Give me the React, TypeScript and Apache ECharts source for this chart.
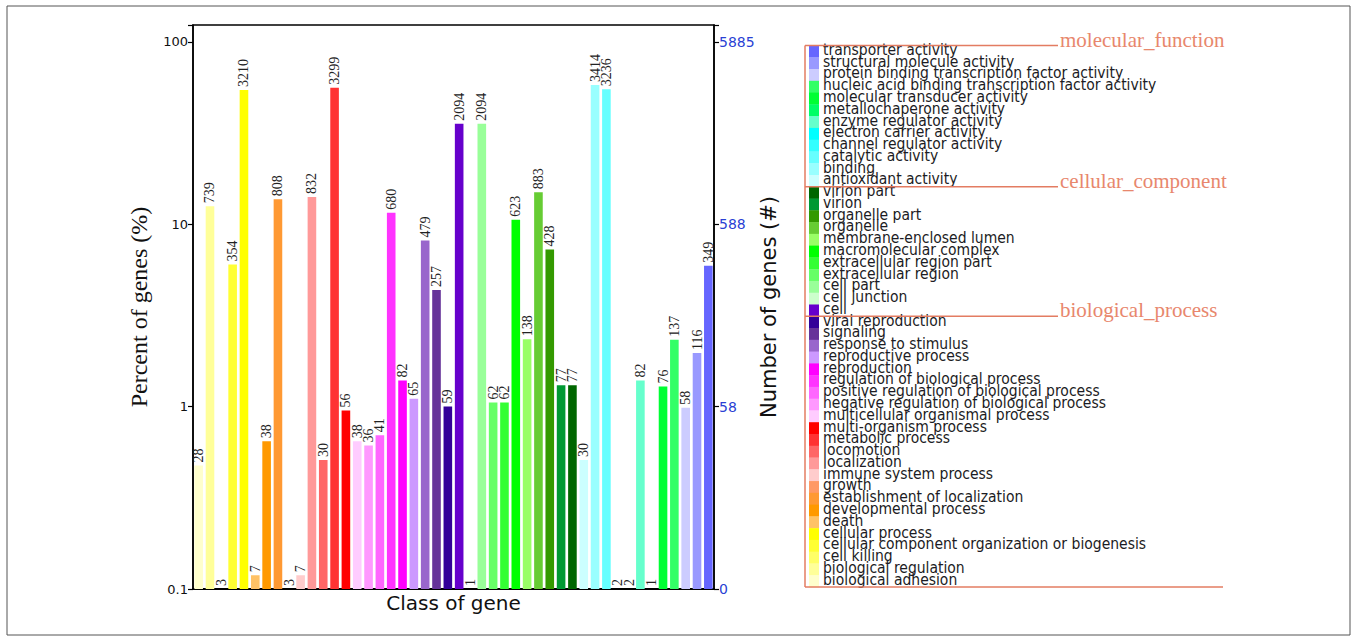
import React, { useEffect, useRef } from "react";
import * as echarts from "echarts";

// Total number of annotated genes (100 %).
const TOTAL_GENES = 5885;

// GO terms in bar order (left to right).
const categories: string[] = [
  "biological adhesion",
  "biological regulation",
  "cell killing",
  "cellular component organization or biogenesis",
  "cellular process",
  "death",
  "developmental process",
  "establishment of localization",
  "growth",
  "immune system process",
  "localization",
  "locomotion",
  "metabolic process",
  "multi-organism process",
  "multicellular organismal process",
  "negative regulation of biological process",
  "positive regulation of biological process",
  "regulation of biological process",
  "reproduction",
  "reproductive process",
  "response to stimulus",
  "signaling",
  "viral reproduction",
  "cell",
  "cell junction",
  "cell part",
  "extracellular region",
  "extracellular region part",
  "macromolecular complex",
  "membrane-enclosed lumen",
  "organelle",
  "organelle part",
  "virion",
  "virion part",
  "antioxidant activity",
  "binding",
  "catalytic activity",
  "channel regulator activity",
  "electron carrier activity",
  "enzyme regulator activity",
  "metallochaperone activity",
  "molecular transducer activity",
  "nucleic acid binding transcription factor activity",
  "protein binding transcription factor activity",
  "structural molecule activity",
  "transporter activity",
];

// Number of genes per term.
const geneCounts: number[] = [
  28, 739, 3, 354, 3210, 7, 38, 808, 3, 7, 832, 30, 3299, 56, 38, 36, 41, 680,
  82, 65, 479, 257, 59, 2094, 1, 2094, 62, 62, 623, 138, 883, 428, 77, 77, 30,
  3414, 3236, 2, 2, 82, 1, 76, 137, 58, 116, 349,
];

const barColors: string[] = [
  "#ffffcc", "#ffff99", "#ffff66", "#ffff33", "#ffff00", "#ffc266", "#ff9900",
  "#ff9933", "#ff9966", "#ffcccc", "#ff9999", "#ff6666", "#ff3333", "#ff0000",
  "#ffccff", "#ff99ff", "#ff66ff", "#ff33ff", "#ff00ff", "#cc99ff", "#9966cc",
  "#663399", "#330099", "#6600cc", "#ccffcc", "#99ff99", "#66ff66", "#33ff33",
  "#00ff00", "#99ff66", "#66cc33", "#339900", "#009933", "#006600", "#ccffff",
  "#99ffff", "#66ffff", "#33ffff", "#00ffff", "#66ffcc", "#00ff66", "#00ff33",
  "#33ff66", "#ccccff", "#9999ff", "#6666ff",
];

// Ontology groups, listed from the top of the legend downwards.
const groupNames: string[] = ["molecular_function", "cellular_component", "biological_process"];
const groupSizes: number[] = [12, 11, 23];

// Axis tick labels (one per decade, from 0.1 %).
const percentTicks: string[] = ["0.1", "1", "10", "100"];
const countTicks: string[] = ["0", "58", "588", "5885"];

// Decades above 0.1 % shown on the value axes.
const AXIS_TOP = 3.093;

const LINE_COLOR = "#e37c62";
const GROUP_TEXT = "#e8876d";

function decadesAboveMin(count: number): number {
  const pct = (count / TOTAL_GENES) * 100;
  return Math.max(0, Math.log10(pct) + 1);
}

function buildLegend(): any[] {
  const elements: any[] = [];
  const top = 45.5;
  const bottom = 587;
  const n = categories.length;
  const rowH = (bottom - top) / n;
  const lineX = 805;

  for (let j = 0; j < n; j++) {
    const idx = n - 1 - j;
    const y = top + j * rowH;
    elements.push({
      type: "rect",
      shape: { x: 809, y, width: 10, height: rowH + 0.4 },
      style: { fill: barColors[idx] },
      silent: true,
    });
    elements.push({
      type: "text",
      x: 823,
      y: y + rowH / 2 - 1.5,
      style: {
        text: categories[idx],
        font: '15.5px "DejaVu Sans Condensed", "DejaVu Sans"',
        fill: "#1c1c24",
        verticalAlign: "middle",
        align: "left",
      },
      silent: true,
    });
  }

  let acc = 0;
  groupNames.forEach((name, g) => {
    const y = top + acc * rowH;
    elements.push({
      type: "line",
      shape: { x1: lineX, y1: y, x2: 1058, y2: y },
      style: { stroke: LINE_COLOR, lineWidth: 1.5 },
      silent: true,
    });
    elements.push({
      type: "text",
      x: 1060,
      y: y - 6,
      style: {
        text: name,
        font: '21px "Liberation Serif"',
        fill: GROUP_TEXT,
        verticalAlign: "middle",
        align: "left",
      },
      silent: true,
    });
    acc += groupSizes[g];
  });

  elements.push({
    type: "line",
    shape: { x1: lineX, y1: top, x2: lineX, y2: bottom },
    style: { stroke: LINE_COLOR, lineWidth: 1.5 },
    silent: true,
  });
  elements.push({
    type: "line",
    shape: { x1: lineX, y1: bottom, x2: 1223, y2: bottom },
    style: { stroke: LINE_COLOR, lineWidth: 1.5 },
    silent: true,
  });

  // outer figure frame
  elements.push({
    type: "rect",
    shape: { x: 7, y: 6, width: 1343, height: 629 },
    style: { fill: "none", stroke: "#555", lineWidth: 1 },
    silent: true,
  });
  return elements;
}

export default function App() {
  const ref = useRef<HTMLDivElement>(null);

  useEffect(() => {
    if (!ref.current) return;
    const chart = echarts.init(ref.current, null, { renderer: "svg" });

    const data = geneCounts.map((c, i) => ({
      value: decadesAboveMin(c),
      itemStyle: { color: barColors[i] },
    }));

    chart.setOption({
      animation: false,
      backgroundColor: "#fff",
      grid: {
        left: 193,
        right: 643,
        top: 25,
        bottom: 52,
        show: true,
        borderColor: "#000",
        borderWidth: 1.5,
        backgroundColor: "transparent",
      },
      xAxis: {
        type: "category",
        data: categories,
        axisTick: { show: false },
        axisLabel: { show: false },
        axisLine: { lineStyle: { color: "#000", width: 2 } },
        name: "Class of gene",
        nameLocation: "middle",
        nameGap: 4,
        nameTextStyle: { fontFamily: "DejaVu Sans", fontSize: 20, color: "#111" },
      },
      yAxis: [
        {
          type: "value",
          position: "left",
          min: 0,
          max: AXIS_TOP,
          interval: 1,
          splitLine: { show: false },
          axisLine: { show: true, lineStyle: { color: "#000", width: 1.5 } },
          axisTick: { show: true, length: 5, lineStyle: { color: "#000", width: 1.2 } },
          axisLabel: {
            formatter: (v: number) => (Number.isInteger(v) ? percentTicks[v] : ""),
            fontFamily: "DejaVu Sans",
            fontSize: 13,
            color: "#111",
            margin: 5,
          },
          name: "Percent of genes (%)",
          nameLocation: "middle",
          nameGap: 42,
          nameTextStyle: { fontFamily: "Liberation Serif", fontSize: 24, color: "#111" },
        },
        {
          type: "value",
          position: "right",
          min: 0,
          max: AXIS_TOP,
          interval: 1,
          splitLine: { show: false },
          axisLine: { show: true, lineStyle: { color: "#000", width: 1.5 } },
          axisTick: { show: true, length: 5, lineStyle: { color: "#000", width: 1.2 } },
          axisLabel: {
            formatter: (v: number) => (Number.isInteger(v) ? countTicks[v] : ""),
            fontFamily: "DejaVu Sans",
            fontSize: 14,
            color: "#2a3fd4",
            margin: 5,
          },
          name: "Number of genes (#)",
          nameLocation: "middle",
          nameGap: 36,
          nameRotate: 90,
          nameTextStyle: { fontFamily: "DejaVu Sans", fontSize: 21, color: "#111" },
        },
      ],
      series: [
        {
          type: "bar",
          yAxisIndex: 0,
          data,
          barCategoryGap: "24%",
          label: {
            show: true,
            position: "top",
            rotate: 90,
            align: "left",
            verticalAlign: "middle",
            distance: 3,
            formatter: (p: any) => String(geneCounts[p.dataIndex]),
            fontFamily: "Liberation Serif",
            fontSize: 14,
            color: "#222",
          },
        },
      ],
      graphic: buildLegend(),
    });

    return () => chart.dispose();
  }, []);

  return (
    <div
      ref={ref}
      style={{ position: "absolute", left: 0, top: 0, width: 1357, height: 641 }}
    />
  );
}
